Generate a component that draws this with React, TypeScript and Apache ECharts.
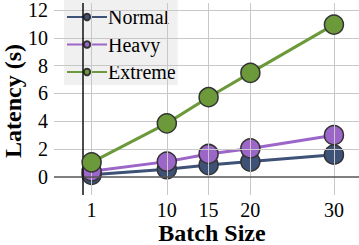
import React, { useEffect, useRef } from "react";
import * as echarts from "echarts";

const batchSizes = [1, 10, 15, 20, 30];
const normal = [0.15, 0.55, 0.85, 1.1, 1.6];
const heavy = [0.4, 1.1, 1.65, 2.05, 3.0];
const extreme = [1.05, 3.85, 5.73, 7.48, 10.95];
const yTicks = [0, 2, 4, 6, 8, 10, 12];
const xTicks = [1, 10, 15, 20, 30];
const seriesNames = ["Normal", "Heavy", "Extreme"];
const colors = ["#3e5176", "#9b66c7", "#6c9a3a"];

const FONT = "'Liberation Serif', 'Times New Roman', serif";

export default function App() {
  const ref = useRef<HTMLDivElement>(null);
  useEffect(() => {
    const chart = echarts.init(ref.current!, undefined, { renderer: "svg" });
    const valuesList = [normal, heavy, extreme];
    const dataSeries = seriesNames.map((name, i) => ({
      name,
      type: "line",
      z: 3 + i,
      data: batchSizes.map((b, j) => [b, valuesList[i][j]]),
      symbol: "circle",
      symbolSize: 19,
      showSymbol: true,
      lineStyle: { color: colors[i], width: 3 },
      itemStyle: { color: colors[i], borderColor: "#333333", borderWidth: 1.5 },
      emphasis: { disabled: true },
    }));
    const gridLines = [
      ...xTicks.map((v) => ({ xAxis: v })),
      ...yTicks.filter((v) => v !== 0).map((v) => ({ yAxis: v })),
    ];
    chart.setOption({
      animation: false,
      textStyle: { fontFamily: FONT },
      grid: { left: 54, right: 0, top: 0, bottom: 50 },
      xAxis: {
        type: "value",
        min: -3.5,
        max: 33,
        axisLine: { show: false },
        axisTick: { show: false },
        splitLine: { show: false },
        axisLabel: {
          customValues: xTicks,
          fontFamily: FONT,
          fontSize: 20,
          color: "#000",
          margin: 5,
        },
      },
      yAxis: {
        type: "value",
        min: -1.3,
        max: 12.5,
        axisLine: { show: false },
        axisTick: { show: false },
        splitLine: { show: false },
        axisLabel: {
          customValues: yTicks,
          fontFamily: FONT,
          fontSize: 20,
          color: "#000",
          margin: 6,
        },
      },
      legend: {
        left: 64,
        top: 0,
        orient: "vertical",
        data: seriesNames,
        backgroundColor: "#f0f0f0",
        padding: [7, 2, 3, 2],
        itemGap: 7.5,
        itemWidth: 40,
        itemHeight: 8,
        textStyle: { fontFamily: FONT, fontSize: 20, color: "#000", padding: [0, 0, 0, -4] },
      },
      graphic: [
        {
          type: "text",
          x: 212,
          y: 233,
          style: {
            text: "Batch Size",
            fontFamily: FONT,
            fontSize: 24,
            fontWeight: "bold",
            fill: "#000",
            align: "center",
            verticalAlign: "middle",
          },
        },
        {
          type: "text",
          x: 13,
          y: 101,
          rotation: Math.PI / 2,
          style: {
            text: "Latency (s)",
            fontFamily: FONT,
            fontSize: 24,
            fontWeight: "bold",
            fill: "#000",
            align: "center",
            verticalAlign: "middle",
          },
        },
      ],
      series: [
        {
          type: "line",
          name: "_grid",
          data: [],
          z: 1,
          silent: true,
          markLine: {
            silent: true,
            symbol: "none",
            label: { show: false },
            lineStyle: { color: "#c8c8c8", width: 1, type: "solid" },
            emphasis: { disabled: true },
            data: gridLines,
          },
        },
        {
          type: "line",
          name: "_axes",
          data: [],
          z: 2,
          silent: true,
          markLine: {
            silent: true,
            symbol: "none",
            label: { show: false },
            emphasis: { disabled: true },
            data: [
              { yAxis: 0, lineStyle: { color: "#555555", width: 1.5, type: "solid" } },
              { xAxis: 0, lineStyle: { color: "#111111", width: 1.5, type: "solid" } },
            ],
          },
        },
        ...dataSeries,
      ],
    });
    return () => chart.dispose();
  }, []);
  return <div ref={ref} style={{ width: 359, height: 245, position: "absolute", left: 0, top: 0 }} />;
}
